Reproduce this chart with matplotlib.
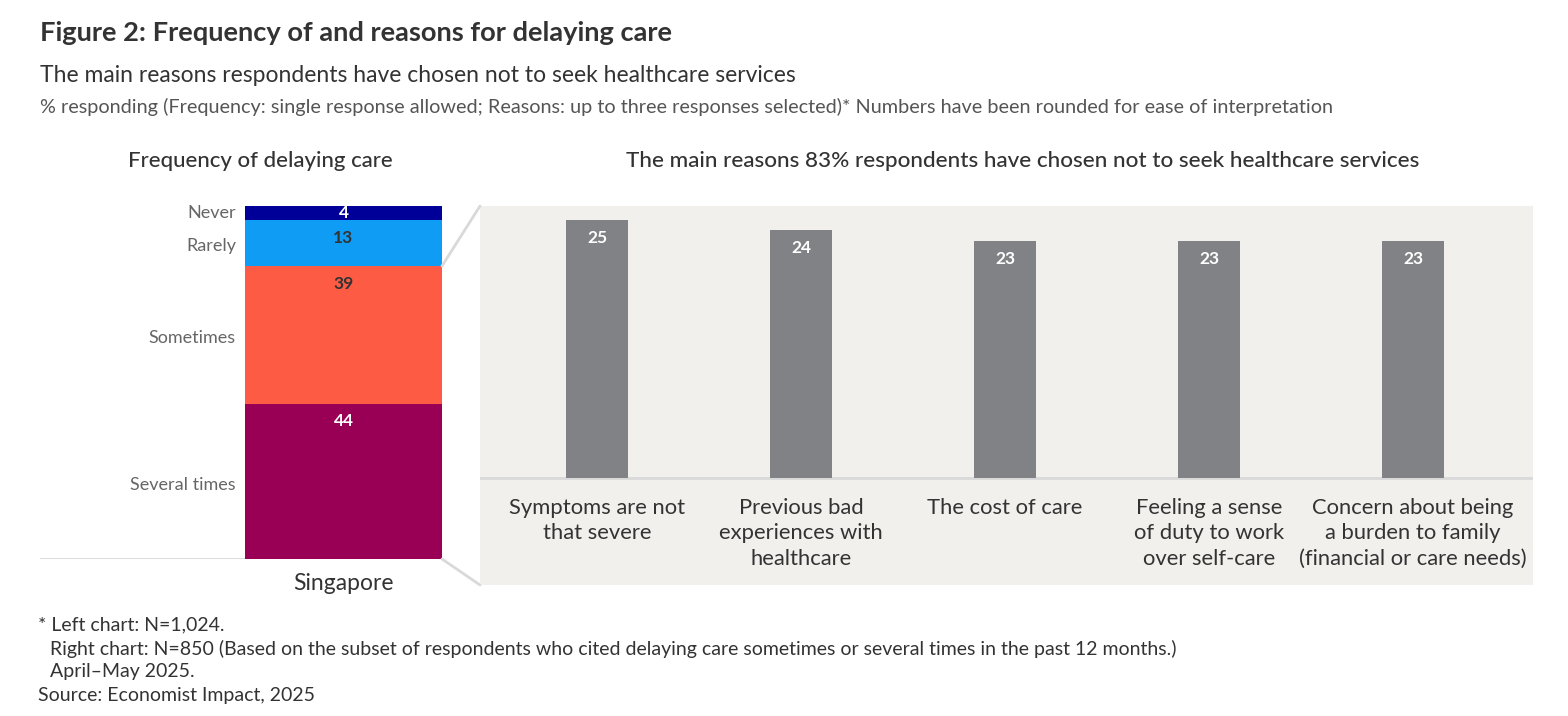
import matplotlib
matplotlib.use("Agg")
import matplotlib.pyplot as plt
from matplotlib.patches import ConnectionPatch

# --- data ---
freq_labels = ["Several times", "Sometimes", "Rarely", "Never"]
freq_values = [44, 39, 13, 4]
freq_colors = ["#990055", "#fe5b44", "#0f9cf5", "#000099"]
freq_text_colors = ["white", "#333333", "#333333", "white"]
country = "Singapore"

reasons = [
    "Symptoms are not\nthat severe",
    "Previous bad\nexperiences with\nhealthcare",
    "The cost of care",
    "Feeling a sense\nof duty to work\nover self-care",
    "Concern about being\na burden to family\n(financial or care needs)",
]
reason_values = [25, 24, 23, 23, 23]

plt.rcParams["font.family"] = ["Lato", "DejaVu Sans"]

W, H = 1568, 716
fig = plt.figure(figsize=(W / 100, H / 100), dpi=100)
txt = "#333333"


def box(x0, y0, x1, y1):
    return [x0 / W, 1 - y1 / H, (x1 - x0) / W, (y1 - y0) / H]


# headings
fig.text(40 / W, 1 - 33 / H, "Figure 2: Frequency of and reasons for delaying care",
         fontweight="bold", fontsize=19.6, color=txt, va="center")
fig.text(40 / W, 1 - 75 / H, "The main reasons respondents have chosen not to seek healthcare services",
         fontsize=16.5, color=txt, va="center")
fig.text(40 / W, 1 - 107 / H,
         "% responding (Frequency: single response allowed; Reasons: up to three responses selected)* "
         "Numbers have been rounded for ease of interpretation",
         fontsize=14.3, color="#555555", va="center")
fig.text(260 / W, 1 - 161 / H, "Frequency of delaying care", fontsize=16, color=txt,
         ha="center", va="center", fontweight="medium")
fig.text(1023 / W, 1 - 161 / H,
         "The main reasons 83% respondents have chosen not to seek healthcare services",
         fontsize=16.2, color=txt, ha="center", va="center", fontweight="medium")

# left: stacked bar
axl = fig.add_axes(box(40, 206, 442, 559))
bottom = 0
for lab, val, col, tc in zip(freq_labels, freq_values, freq_colors, freq_text_colors):
    axl.bar(0, val, bottom=bottom, width=1.0, color=col, zorder=3)
    ly = bottom + val / 2 if val < 8 else bottom + val - 5
    axl.text(0, ly, str(val), ha="center", va="center", fontsize=12.5,
             fontweight="bold", color=tc, zorder=4)
    label_y = bottom + val / 2 if val < 8 else bottom + val / 2 - 0.9
    axl.text(-0.546, label_y, lab, ha="right", va="center", fontsize=13, color="#666666")
    bottom += val
axl.set_xlim(0.5 - (442 - 40) / 197, 0.5)
axl.set_ylim(0, 100)
axl.axhline(0, color="#d9d9d9", lw=2, zorder=1)
axl.axis("off")
fig.text(343 / W, 1 - 584 / H, country, fontsize=16.5, color=txt, ha="center", va="center")

# right: reasons
axr = fig.add_axes(box(480, 206, 1533, 585))
axr.set_facecolor("#f1f0ed")
xs = list(range(len(reasons)))
axr.bar(xs, reason_values, width=0.304, color="#818286", zorder=3)
for x, v in zip(xs, reason_values):
    axr.text(x, v - 1.75, str(v), ha="center", va="center", fontsize=12.5, fontweight="bold",
             color="white", zorder=4)
    axr.text(x, -1.9, reasons[x], ha="center", va="top", fontsize=15.8, color=txt,
             linespacing=1.35)
axr.axhline(0, color="#d9d9d9", lw=2, zorder=2)
axr.set_xlim((480 - 597) / 204, (1533 - 597) / 204)
axr.set_ylim(-(585 - 478) / 10.32, (478 - 206) / 10.32)
for s in axr.spines.values():
    s.set_visible(False)
axr.set_xticks([])
axr.set_yticks([])

# connectors
top_share = freq_values[0] + freq_values[1]
for ya, yb in [(top_share, 1.0), (0, 0.0)]:
    con = ConnectionPatch(xyA=(0.5, ya), coordsA=axl.transData,
                          xyB=(0.0, yb), coordsB=axr.transAxes,
                          color="#d9d9d9", lw=2)
    fig.add_artist(con)

# footnotes
notes = [
    (38, 625, "* Left chart: N=1,024."),
    (50, 649, "Right chart: N=850 (Based on the subset of respondents who cited delaying care "
              "sometimes or several times in the past 12 months.)"),
    (50, 672, "April\u2013May 2025."),
    (38, 696, "Source: Economist Impact, 2025"),
]
for x, y, t in notes:
    fig.text(x / W, 1 - y / H, t, fontsize=14, color=txt, va="center")

fig.savefig("out.png", dpi=100, facecolor="white")
